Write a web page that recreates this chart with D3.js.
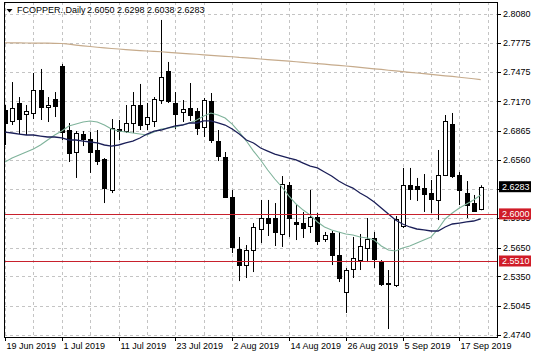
<!DOCTYPE html>
<html><head><meta charset="utf-8">
<script src="https://cdn.jsdelivr.net/npm/d3@7"></script>
<style>body{margin:0;background:#fff}svg{display:block}text{font-family:"Liberation Sans",Arial,sans-serif}</style>
</head><body><svg id="c" width="536" height="358"></svg>
<script>
const symbolLabel = "FCOPPER.,Daily";
const lastOHLC = ["2.6050","2.6298","2.6038","2.6283"];
const dateLabels = ["19 Jun 2019","1 Jul 2019","11 Jul 2019","23 Jul 2019","2 Aug 2019","14 Aug 2019","26 Aug 2019","5 Sep 2019","17 Sep 2019"];
const dateLabelIdx = [0,8,16,24,32,40,48,56,64];
const priceTicks = [2.8080,2.7775,2.7475,2.7170,2.6865,2.6560,2.6255,2.5955,2.5650,2.5350,2.5045,2.4740];
const levels = [2.6000,2.5510];
const lastClose = 2.6283;

const opens = [2.7081,2.6967,2.7154,2.7040,2.7050,2.7289,2.7112,2.7196,2.7539,2.6873,
2.6644,2.6831,2.6779,2.6665,2.6571,2.6249,2.6883,2.6862,2.6946,2.7133,
2.6935,2.6967,2.7185,2.7487,2.7154,2.7060,2.7102,2.7071,2.6904,2.7175,
2.6758,2.6592,2.6176,2.5635,2.5468,2.5624,2.5843,2.5957,2.5957,2.5791,
2.6301,2.5916,2.5905,2.5874,2.5968,2.5739,2.5801,2.5572,2.5187,2.5427,
2.5520,2.5645,2.5749,2.5499,2.5276,2.5260,2.5874,2.6301,2.6290,2.6269,
2.6217,2.6145,2.6405,2.6935,2.6405,2.6217,2.6113,2.6050];
const highs = [2.7133,2.7372,2.7216,2.7133,2.7466,2.7508,2.7216,2.7268,2.7560,2.6946,
2.6862,2.6862,2.6852,2.6873,2.6581,2.6987,2.6977,2.7133,2.7268,2.7352,
2.7154,2.7216,2.8018,2.7581,2.7268,2.7185,2.7362,2.7102,2.7206,2.7258,
2.6873,2.6644,2.6249,2.5760,2.5676,2.5905,2.6145,2.6145,2.6113,2.6394,
2.6332,2.6092,2.6020,2.6249,2.6009,2.5812,2.5822,2.5812,2.5437,2.5760,
2.5791,2.5957,2.5812,2.5520,2.5416,2.5978,2.6478,2.6478,2.6374,2.6415,
2.6353,2.6665,2.7029,2.7050,2.6436,2.6342,2.6197,2.6298];
const lows = [2.6717,2.6925,2.6831,2.6821,2.6987,2.6977,2.6956,2.7008,2.6769,2.6540,
2.6374,2.6706,2.6426,2.6509,2.6113,2.6217,2.6769,2.6842,2.6842,2.6873,
2.6873,2.6904,2.7144,2.7154,2.6883,2.6956,2.6967,2.6821,2.6800,2.6738,
2.6550,2.6166,2.5593,2.5301,2.5333,2.5395,2.5697,2.5770,2.5666,2.5656,
2.5760,2.5728,2.5749,2.5801,2.5676,2.5708,2.5468,2.5291,2.4969,2.5333,
2.5416,2.5499,2.5437,2.5250,2.4802,2.5239,2.5853,2.6145,2.6134,2.6020,
2.6009,2.5936,2.6394,2.6374,2.6092,2.5957,2.6020,2.6038];
const closes = [2.6946,2.7102,2.6987,2.7071,2.7289,2.7112,2.7133,2.7123,2.6852,2.6634,
2.6842,2.6779,2.6644,2.6550,2.6269,2.6894,2.6862,2.6946,2.7133,2.6925,
2.7008,2.7196,2.7424,2.7175,2.7040,2.7092,2.7029,2.6894,2.7185,2.6769,
2.6602,2.6176,2.5656,2.5468,2.5624,2.5864,2.5957,2.5905,2.5812,2.6311,
2.5957,2.5895,2.5853,2.5968,2.5718,2.5780,2.5572,2.5333,2.5416,2.5541,
2.5666,2.5739,2.5531,2.5270,2.5270,2.5947,2.6301,2.6259,2.6259,2.6207,
2.6155,2.6405,2.6967,2.6394,2.6249,2.6092,2.6030,2.6283];

const maFast = [2.6540,2.6581,2.6613,2.6644,2.6675,2.6717,2.6769,2.6821,2.6862,2.6915,
2.6935,2.6956,2.6967,2.6956,2.6925,2.6883,2.6862,2.6852,2.6842,2.6831,
2.6821,2.6852,2.6883,2.6894,2.6904,2.6925,2.6946,2.6977,2.7019,2.7050,
2.7029,2.6998,2.6935,2.6852,2.6758,2.6654,2.6561,2.6457,2.6363,2.6280,
2.6186,2.6103,2.6040,2.5988,2.5916,2.5864,2.5833,2.5812,2.5791,2.5780,
2.5760,2.5749,2.5728,2.5666,2.5624,2.5614,2.5645,2.5666,2.5697,2.5728,
2.5760,2.5843,2.5947,2.6009,2.6061,2.6103,2.6145,2.6197];
const maMid = [2.6852,2.6842,2.6831,2.6821,2.6821,2.6810,2.6800,2.6800,2.6790,2.6769,
2.6769,2.6758,2.6748,2.6738,2.6717,2.6706,2.6717,2.6738,2.6758,2.6790,
2.6831,2.6862,2.6873,2.6894,2.6915,2.6925,2.6946,2.6946,2.6967,2.6967,
2.6946,2.6925,2.6883,2.6831,2.6769,2.6738,2.6686,2.6654,2.6623,2.6602,
2.6581,2.6561,2.6529,2.6498,2.6478,2.6436,2.6394,2.6342,2.6301,2.6269,
2.6217,2.6176,2.6124,2.6061,2.5999,2.5936,2.5895,2.5864,2.5843,2.5833,
2.5822,2.5822,2.5864,2.5895,2.5905,2.5916,2.5926,2.5947];
const maSlow = [2.7781,2.7780,2.7779,2.7778,2.7778,2.7777,2.7776,2.7775,2.7773,2.7766,
2.7757,2.7749,2.7742,2.7734,2.7727,2.7721,2.7716,2.7710,2.7704,2.7699,
2.7695,2.7691,2.7687,2.7681,2.7676,2.7671,2.7666,2.7661,2.7655,2.7650,
2.7645,2.7640,2.7635,2.7628,2.7623,2.7618,2.7612,2.7606,2.7601,2.7595,
2.7589,2.7583,2.7576,2.7570,2.7564,2.7558,2.7551,2.7545,2.7539,2.7532,
2.7524,2.7517,2.7510,2.7503,2.7495,2.7488,2.7481,2.7473,2.7466,2.7459,
2.7452,2.7444,2.7437,2.7430,2.7422,2.7414,2.7406,2.7397];

const W = 536, H = 358;
const L = 4, R = 497, T = 2, B = 337;
const svg = d3.select("#c");
const x = d3.scaleLinear().domain([0, 67]).range([5, 480.7]);
const y = d3.scaleLinear().domain([2.4740, 2.8080]).range([335, 14]);
const px = i => Math.round(x(i)) + 0.5;
const py = v => Math.round(y(v)) + 0.5;

svg.append("rect").attr("width", W).attr("height", H).attr("fill", "#fff");
svg.append("defs").append("clipPath").attr("id", "pc")
  .append("rect").attr("x", L).attr("y", T).attr("width", R - L).attr("height", B - T);
const g = svg.append("g").attr("clip-path", "url(#pc)");

// grid
const gridIdx = d3.range(0, 69, 4);
g.selectAll("line.vg").data(gridIdx).join("line").attr("class", "vg")
  .attr("x1", d => px(d)).attr("x2", d => px(d)).attr("y1", T).attr("y2", B)
  .attr("stroke", "#c4c4c4").attr("stroke-dasharray", "3,3");
g.selectAll("line.hg").data(priceTicks).join("line").attr("class", "hg")
  .attr("x1", L).attr("x2", R).attr("y1", d => py(d)).attr("y2", d => py(d))
  .attr("stroke", "#c4c4c4").attr("stroke-dasharray", "3,3");

// header
svg.append("path").attr("d", "M6.5,9 L12.5,9 L9.5,12.5 Z").attr("fill", "#000");
svg.append("text").attr("x", 17).attr("y", 13).attr("font-size", 9).attr("fill", "#000").text(symbolLabel);
svg.append("text").attr("x", 87).attr("y", 13).attr("font-size", 9).attr("fill", "#000").text(lastOHLC.join(" "));

// candles
const idx = d3.range(opens.length);
g.selectAll("line.wick").data(idx).join("line").attr("class", "wick")
  .attr("x1", i => px(i)).attr("x2", i => px(i))
  .attr("y1", i => y(highs[i])).attr("y2", i => y(lows[i]))
  .attr("stroke", "#000").attr("stroke-width", 1);
g.selectAll("rect.body").data(idx).join("rect").attr("class", "body")
  .attr("x", i => Math.round(x(i)) - 2 + 0.5)
  .attr("width", 4)
  .attr("y", i => Math.round(y(Math.max(opens[i], closes[i]))) + 0.5)
  .attr("height", i => Math.max(0, Math.round(y(Math.min(opens[i], closes[i]))) - Math.round(y(Math.max(opens[i], closes[i])))))
  .attr("fill", i => closes[i] >= opens[i] ? "#fff" : "#000")
  .attr("stroke", "#000").attr("stroke-width", 1);

// moving averages
const line = d3.line().x((d, i) => x(i)).y(d => y(d));
g.append("path").datum(maSlow).attr("d", line).attr("fill", "none").attr("stroke", "#c6ab8c").attr("stroke-width", 1.2);
g.append("path").datum(maFast).attr("d", line).attr("fill", "none").attr("stroke", "#7fb39b").attr("stroke-width", 1.1);
g.append("path").datum(maMid).attr("d", line).attr("fill", "none").attr("stroke", "#1b1f58").attr("stroke-width", 1.3);

// levels
g.selectAll("line.lvl").data(levels).join("line").attr("class", "lvl")
  .attr("x1", L).attr("x2", R).attr("y1", d => py(d)).attr("y2", d => py(d))
  .attr("stroke", "#c8202c").attr("stroke-width", 1);

// frame
svg.append("rect").attr("x", L + 0.5).attr("y", T + 0.5).attr("width", R - L).attr("height", B - T)
  .attr("fill", "none").attr("stroke", "#000");

// y axis (labels fully hidden under the last-price tag are not drawn, as in the reference)
svg.selectAll("line.yt").data(priceTicks).join("line").attr("class", "yt")
  .attr("x1", R).attr("x2", R + 4).attr("y1", d => py(d)).attr("y2", d => py(d)).attr("stroke", "#000");
const shownTicks = priceTicks.filter(v => Math.abs(y(v) - y(lastClose)) > 4);
svg.selectAll("text.yl").data(shownTicks).join("text").attr("class", "yl")
  .attr("x", 503).attr("y", d => y(d)).attr("dy", "0.35em").attr("font-size", 9).attr("fill", "#000")
  .text(d => d.toFixed(4));

// x axis
svg.selectAll("line.xt").data(dateLabelIdx).join("line").attr("class", "xt")
  .attr("x1", d => px(d)).attr("x2", d => px(d)).attr("y1", B).attr("y2", B + 4).attr("stroke", "#000");
svg.selectAll("text.xl").data(dateLabelIdx).join("text").attr("class", "xl")
  .attr("x", d => px(d) + 1).attr("y", 349).attr("font-size", 9).attr("fill", "#000")
  .text((d, i) => dateLabels[i]);

// price labels
const tags = [{v: lastClose, c: "#000"}].concat(levels.map(v => ({v: v, c: "#d01c28"})));
const tg = svg.selectAll("g.tag").data(tags).join("g").attr("class", "tag");
tg.append("rect").attr("x", 499).attr("y", d => y(d.v) - 5.5).attr("width", 32).attr("height", 11).attr("fill", d => d.c);
tg.append("text").attr("x", 502).attr("y", d => y(d.v)).attr("dy", "0.35em").attr("font-size", 9).attr("fill", "#fff")
  .text(d => d.v.toFixed(4));
</script></body></html>
